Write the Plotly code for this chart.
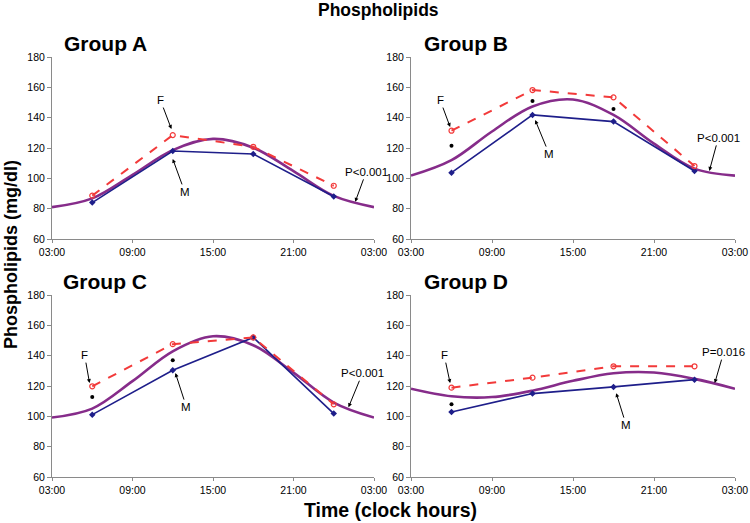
import plotly.graph_objects as go

# sampling times (clock hours, 24 = midnight) and fitted-curve read points
TIMES = [6, 12, 18, 24]
FIT_T = [3, 6, 9, 12, 15, 18, 21, 24, 27]
TICK_VALS = [3, 9, 15, 21, 27]
TICK_TEXT = ['03:00', '09:00', '15:00', '21:00', '03:00']
Y_TICKS = [60, 80, 100, 120, 140, 160, 180]

A_F = [88.6, 128.5, 120.8, 95.1]
A_M = [84.0, 118.0, 116.0, 88.0]
A_FIT = [81.0, 86.8, 102.3, 118.6, 126.0, 120.2, 104.7, 88.4, 81.0]

B_F = [131.4, 158.2, 153.4, 108.1]
B_M = [103.7, 141.8, 137.4, 104.8]
B_FIT = [101.8, 112.0, 130.9, 147.4, 152.0, 141.8, 122.9, 106.4, 101.8]
B_STAR = [121.5, 151.0, 145.7]

C_F = [119.8, 147.6, 152.0, 107.9]
C_M = [101.1, 130.4, 152.0, 101.8]
C_FIT = [99.2, 105.1, 123.2, 142.9, 152.8, 146.9, 128.8, 109.1, 99.2]
C_STAR = [112.8, 137.0]

D_F = [118.9, 125.5, 133.0, 133.0]
D_M = [102.9, 115.0, 119.4, 124.2]
D_FIT = [118.2, 113.2, 112.7, 116.9, 123.4, 128.4, 128.9, 124.7, 118.2]
D_STAR = [108.0]

RED = '#F23A3A'
NAVY = '#1E1E8A'
PURPLE = '#862C8A'
AXIS = '#8A8A8A'
FONT = 'Liberation Sans, Arial, sans-serif'

W, H = 750, 523
# (x0, x1, ytop, ybottom) in pixels
PANELS = {
    'A': (52, 374, 57, 239),
    'B': (411, 735, 57, 239),
    'C': (52, 374, 295, 477),
    'D': (411, 735, 295, 477),
}

DATA = {
    'A': (A_F, A_M, A_FIT, []),
    'B': (B_F, B_M, B_FIT, B_STAR),
    'C': (C_F, C_M, C_FIT, C_STAR),
    'D': (D_F, D_M, D_FIT, D_STAR),
}

# annotation: (text, x head, y head, ax, ay)
NOTES = {
    'A': [('F', 11.9, 132.5, -11, -29), ('M', 12.0, 112.8, 12, 33), ('P<0.001', 25.6, 84.5, 11, -30)],
    'B': [('F', 5.9, 133.8, -10, -27), ('M', 12.2, 138.4, 14, 34), ('P<0.001', 25.1, 104.9, 9, -33)],
    'C': [('F', 5.8, 121.9, -5, -28), ('M', 12.2, 128.5, 11, 34), ('P<0.001', 25.1, 106.0, 14, -34)],
    'D': [('F', 5.9, 121.9, -6, -28), ('M', 18.2, 115.3, 10, 32), ('P=0.016', 25.5, 121.9, 9, -31)],
}

fig = go.Figure()
layout = dict(
    width=W, height=H,
    margin=dict(l=0, r=0, t=0, b=0, autoexpand=False),
    paper_bgcolor='white', plot_bgcolor='white',
    showlegend=False,
    font=dict(family=FONT, size=11, color='black'),
)
annotations = []

for i, key in enumerate(['A', 'B', 'C', 'D']):
    n = '' if i == 0 else str(i + 1)
    x0, x1, yt, yb = PANELS[key]
    f, m, fit, star = DATA[key]
    xa, ya = 'x' + n, 'y' + n

    fig.add_trace(go.Scatter(x=FIT_T, y=fit, mode='lines', line=dict(color=PURPLE, width=2.6, shape='spline'),
                             xaxis=xa, yaxis=ya, hoverinfo='skip'))
    fig.add_trace(go.Scatter(x=TIMES, y=m, mode='lines+markers', line=dict(color=NAVY, width=1.6),
                             marker=dict(symbol='diamond', size=5, color=NAVY), xaxis=xa, yaxis=ya))
    fig.add_trace(go.Scatter(x=TIMES, y=f, mode='lines+markers', line=dict(color=RED, width=2, dash='dash'),
                             marker=dict(symbol='circle-open', size=5, color=RED, line=dict(width=1.2)),
                             xaxis=xa, yaxis=ya))
    if star:
        fig.add_trace(go.Scatter(x=TIMES[:len(star)], y=star, mode='markers',
                                 marker=dict(symbol='circle', size=4, color='black'), xaxis=xa, yaxis=ya))

    layout['xaxis' + n] = dict(
        domain=[x0 / W, x1 / W], anchor=ya, range=[3, 27], automargin=False,
        tickvals=TICK_VALS, ticktext=TICK_TEXT, showgrid=False, zeroline=False,
        showline=True, linecolor=AXIS, linewidth=1, ticks='outside', ticklen=3, tickcolor=AXIS,
        tickfont=dict(size=10.5),
    )
    layout['yaxis' + n] = dict(
        domain=[1 - yb / H, 1 - yt / H], anchor=xa, range=[60, 180], automargin=False,
        tickvals=Y_TICKS, showgrid=False, zeroline=False,
        showline=True, linecolor=AXIS, linewidth=1, ticks='outside', ticklen=4, tickcolor=AXIS,
        tickfont=dict(size=10.5),
    )

    for text, hx, hy, ax, ay in NOTES[key]:
        annotations.append(dict(
            text=text, x=hx, y=hy, xref=xa, yref=ya, ax=ax, ay=ay,
            showarrow=True, arrowhead=2, arrowsize=0.8, arrowwidth=1, arrowcolor='black',
            font=dict(size=11.5), standoff=0,
        ))

    annotations.append(dict(
        text='<b>Group %s</b>' % key, x=(x0 + 53) / W if x0 < 100 else (x0 + 55) / W,
        y=1 - (yt - 14) / H, xref='paper', yref='paper', xanchor='center', yanchor='middle',
        showarrow=False, font=dict(size=21),
    ))

annotations += [
    dict(text='<b>Phospholipids</b>', x=378 / W, y=1 - 10 / H, xref='paper', yref='paper',
         showarrow=False, font=dict(size=17.5), xanchor='center', yanchor='middle'),
    dict(text='<b>Time (clock hours)</b>', x=390 / W, y=1 - 510 / H, xref='paper', yref='paper',
         showarrow=False, font=dict(size=19.5), xanchor='center', yanchor='middle'),
    dict(text='<b>Phospholipids (mg/dl)</b>', x=11 / W, y=1 - 255 / H, xref='paper', yref='paper',
         showarrow=False, font=dict(size=18), textangle=-90, xanchor='center', yanchor='middle'),
]
layout['annotations'] = annotations
fig.update_layout(**layout)

# page body has a default margin; drop it so the figure sits at the window corner
fig.write_html("out.html", config={'displayModeBar': False},
               post_script="document.body.style.margin='0';")
